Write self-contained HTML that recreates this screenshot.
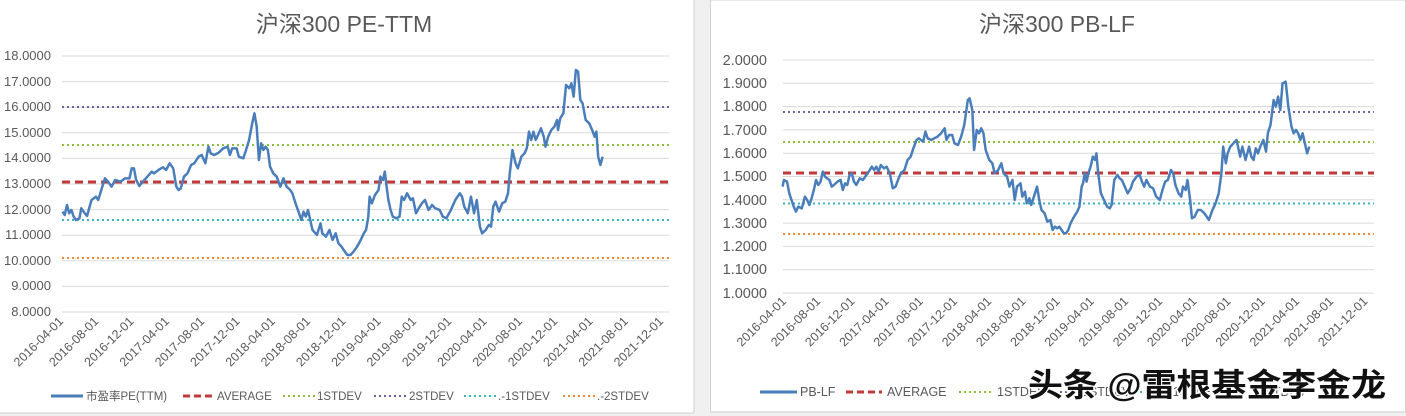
<!DOCTYPE html>
<html><head><meta charset="utf-8"><style>
body{margin:0;width:1406px;height:416px;background:#f0f0f0;overflow:hidden;font-family:"Liberation Sans","Noto Sans CJK SC",sans-serif}
svg{position:absolute;left:0;top:0}
</style></head><body>
<svg width="1406" height="416" viewBox="0 0 1406 416" font-family="Liberation Sans, Noto Sans CJK SC, sans-serif">
<rect x="0" y="0" width="694" height="413" fill="#fff"/>
<line x1="694" y1="0" x2="694" y2="413" stroke="#d0d0d0"/>
<rect x="710.5" y="0" width="695" height="412" fill="#fff" stroke="#d0d0d0"/>
<line x1="0" y1="413" x2="694" y2="413" stroke="#d0d0d0"/>
<!-- LEFT -->
<text x="344" y="32" text-anchor="middle" font-size="23" fill="#595959">沪深300 PE-TTM</text>
<g stroke="#d9d9d9" stroke-width="1">
<line x1="62" x2="669" y1="56" y2="56"/><line x1="62" x2="669" y1="81.6" y2="81.6"/><line x1="62" x2="669" y1="107.2" y2="107.2"/><line x1="62" x2="669" y1="132.8" y2="132.8"/><line x1="62" x2="669" y1="158.4" y2="158.4"/><line x1="62" x2="669" y1="184" y2="184"/><line x1="62" x2="669" y1="209.6" y2="209.6"/><line x1="62" x2="669" y1="235.2" y2="235.2"/><line x1="62" x2="669" y1="260.8" y2="260.8"/><line x1="62" x2="669" y1="286.4" y2="286.4"/><line x1="62" x2="669" y1="312" y2="312"/>
</g>
<g font-size="13" fill="#595959" text-anchor="end">
<text x="51" y="60">18.0000</text><text x="51" y="86">17.0000</text><text x="51" y="111">16.0000</text><text x="51" y="137">15.0000</text><text x="51" y="162">14.0000</text><text x="51" y="188">13.0000</text><text x="51" y="214">12.0000</text><text x="51" y="239">11.0000</text><text x="51" y="265">10.0000</text><text x="51" y="290">9.0000</text><text x="51" y="316">8.0000</text>
</g>
<line x1="62" x2="669" y1="107" y2="107" stroke="#7060a0" stroke-width="2" stroke-dasharray="2,3"/>
<line x1="62" x2="669" y1="145" y2="145" stroke="#8cbf3f" stroke-width="2" stroke-dasharray="2,3"/>
<line x1="62" x2="669" y1="182" y2="182" stroke="#c0393b" stroke-width="3" stroke-dasharray="8,5"/>
<line x1="62" x2="669" y1="220" y2="220" stroke="#3bb3c3" stroke-width="2" stroke-dasharray="2,3"/>
<line x1="62" x2="669" y1="258" y2="258" stroke="#f0883a" stroke-width="2" stroke-dasharray="2,3"/>
<g transform="scale(0.4464,0.3333)">
<polyline fill="none" stroke="#4a7ebb" stroke-width="2.5" vector-effect="non-scaling-stroke" stroke-linejoin="round" points="140,635 145,645 150,615 155,640 160,630 165,650 170,660 178,655 182,625 190,640 195,648 205,600 215,590 220,600 235,535 242,545 250,560 258,540 270,545 280,535 290,535 295,505 300,505 305,540 312,558 320,545 330,530 340,515 345,520 355,510 365,502 372,510 380,490 388,505 395,560 400,570 405,565 412,530 420,520 428,495 435,490 445,470 452,465 460,490 467,440 472,460 480,465 490,458 500,445 510,440 515,465 520,445 530,445 535,470 545,475 550,455 558,420 565,370 570,340 575,380 580,480 585,430 590,450 595,440 600,450 605,500 612,520 620,530 628,560 635,535 642,560 650,570 655,580 662,610 670,640 675,660 680,635 685,650 690,630 695,660 700,690 710,705 718,670 722,700 730,710 738,690 745,720 752,700 758,730 765,740 770,750 778,765 785,765 792,755 800,740 808,720 815,700 820,690 825,650 828,590 833,610 840,585 848,570 852,530 858,540 862,515 866,560 870,600 875,630 880,650 888,655 895,650 900,590 905,600 912,580 920,600 925,595 932,640 938,625 945,610 952,600 960,630 968,615 975,625 985,630 992,650 1000,655 1010,630 1020,600 1030,580 1035,590 1040,620 1048,640 1055,590 1062,640 1068,600 1075,680 1080,700 1088,690 1095,675 1100,680 1105,620 1110,605 1118,635 1125,610 1132,605 1138,580 1142,520 1148,450 1155,490 1160,505 1168,470 1175,460 1180,445 1185,395 1190,420 1195,395 1200,420 1207,400 1212,385 1218,410 1222,440 1228,410 1235,390 1242,380 1248,360 1250,390 1255,355 1262,340 1268,255 1275,265 1280,250 1285,290 1290,210 1295,215 1300,300 1305,310 1312,360 1320,370 1328,395 1332,410 1336,395 1340,470 1345,495 1350,470"/>
</g>
<g font-size="12.5" fill="#595959" text-anchor="end">
<text transform="translate(64,322) rotate(-45)">2016-04-01</text>
<text transform="translate(99.3,322) rotate(-45)">2016-08-01</text>
<text transform="translate(134.6,322) rotate(-45)">2016-12-01</text>
<text transform="translate(169.9,322) rotate(-45)">2017-04-01</text>
<text transform="translate(205.2,322) rotate(-45)">2017-08-01</text>
<text transform="translate(240.5,322) rotate(-45)">2017-12-01</text>
<text transform="translate(275.8,322) rotate(-45)">2018-04-01</text>
<text transform="translate(311.1,322) rotate(-45)">2018-08-01</text>
<text transform="translate(346.4,322) rotate(-45)">2018-12-01</text>
<text transform="translate(381.7,322) rotate(-45)">2019-04-01</text>
<text transform="translate(417,322) rotate(-45)">2019-08-01</text>
<text transform="translate(452.3,322) rotate(-45)">2019-12-01</text>
<text transform="translate(487.6,322) rotate(-45)">2020-04-01</text>
<text transform="translate(522.9,322) rotate(-45)">2020-08-01</text>
<text transform="translate(558.2,322) rotate(-45)">2020-12-01</text>
<text transform="translate(593.5,322) rotate(-45)">2021-04-01</text>
<text transform="translate(628.8,322) rotate(-45)">2021-08-01</text>
<text transform="translate(664.1,322) rotate(-45)">2021-12-01</text>
</g>
<g font-size="11.5" fill="#595959">
<line x1="51" x2="83" y1="396" y2="396" stroke="#4a7ebb" stroke-width="3"/><text x="86" y="400">市盈率PE(TTM)</text>
<line x1="183" x2="213" y1="396" y2="396" stroke="#c0393b" stroke-width="3" stroke-dasharray="7,4"/><text x="217" y="400">AVERAGE</text>
<line x1="283" x2="315" y1="396" y2="396" stroke="#8cbf3f" stroke-width="2" stroke-dasharray="2,3"/><text x="317" y="400">1STDEV</text>
<line x1="374" x2="406" y1="396" y2="396" stroke="#7060a0" stroke-width="2" stroke-dasharray="2,3"/><text x="409" y="400">2STDEV</text>
<line x1="464" x2="496" y1="396" y2="396" stroke="#3bb3c3" stroke-width="2" stroke-dasharray="2,3"/><text x="498" y="400">.-1STDEV</text>
<line x1="563" x2="595" y1="396" y2="396" stroke="#f0883a" stroke-width="2" stroke-dasharray="2,3"/><text x="597" y="400">.-2STDEV</text>
</g>
<!-- RIGHT -->
<text x="1057" y="32" text-anchor="middle" font-size="23" fill="#595959">沪深300 PB-LF</text>
<g stroke="#d9d9d9" stroke-width="1">
<line x1="783" x2="1374" y1="60" y2="60"/><line x1="783" x2="1374" y1="83.3" y2="83.3"/><line x1="783" x2="1374" y1="106.6" y2="106.6"/><line x1="783" x2="1374" y1="129.9" y2="129.9"/><line x1="783" x2="1374" y1="153.2" y2="153.2"/><line x1="783" x2="1374" y1="176.5" y2="176.5"/><line x1="783" x2="1374" y1="199.8" y2="199.8"/><line x1="783" x2="1374" y1="223.1" y2="223.1"/><line x1="783" x2="1374" y1="246.4" y2="246.4"/><line x1="783" x2="1374" y1="269.7" y2="269.7"/><line x1="783" x2="1374" y1="293" y2="293"/>
</g>
<g font-size="14.5" fill="#595959" text-anchor="end">
<text x="767" y="65">2.0000</text><text x="767" y="88">1.9000</text><text x="767" y="111">1.8000</text><text x="767" y="135">1.7000</text><text x="767" y="158">1.6000</text><text x="767" y="181">1.5000</text><text x="767" y="205">1.4000</text><text x="767" y="228">1.3000</text><text x="767" y="251">1.2000</text><text x="767" y="274">1.1000</text><text x="767" y="298">1.0000</text>
</g>
<line x1="783" x2="1374" y1="112" y2="112" stroke="#7060a0" stroke-width="2" stroke-dasharray="2,3"/>
<line x1="783" x2="1374" y1="142" y2="142" stroke="#8cbf3f" stroke-width="2" stroke-dasharray="2,3"/>
<line x1="783" x2="1374" y1="173" y2="173" stroke="#c0393b" stroke-width="3" stroke-dasharray="8,5"/>
<line x1="783" x2="1374" y1="203.5" y2="203.5" stroke="#3bb3c3" stroke-width="2" stroke-dasharray="2,3"/>
<line x1="783" x2="1374" y1="234" y2="234" stroke="#f0883a" stroke-width="2" stroke-dasharray="2,3"/>
<g transform="translate(700,0) scale(0.4464,0.3333)">
<polyline fill="none" stroke="#4a7ebb" stroke-width="2.5" vector-effect="non-scaling-stroke" stroke-linejoin="round" points="185,560 188,540 195,545 200,580 205,600 210,620 215,635 220,620 228,625 235,590 240,600 245,615 250,595 255,570 260,540 265,555 270,545 275,515 280,530 285,535 290,540 295,560 300,555 308,545 315,540 320,570 325,550 330,555 335,525 340,520 345,545 350,555 358,535 365,540 370,530 378,515 385,500 390,510 395,500 400,515 405,495 412,505 418,500 425,520 432,565 438,560 445,535 450,520 458,510 465,480 472,470 478,445 485,420 490,415 495,420 500,425 505,395 510,415 518,420 525,415 532,410 540,400 548,385 552,420 558,405 565,405 570,430 578,435 585,410 592,375 600,300 604,295 610,330 614,450 620,390 625,400 630,385 635,400 640,450 648,480 655,490 660,520 668,510 675,490 680,520 688,530 693,560 700,540 705,600 710,560 718,550 722,590 728,575 732,610 738,595 742,615 748,590 755,560 760,600 765,630 772,640 778,665 785,660 790,690 795,680 800,685 805,680 810,690 815,700 820,700 825,690 830,670 838,650 845,635 850,620 855,560 858,550 862,520 866,545 870,520 875,500 880,470 885,480 888,460 892,520 898,580 905,600 912,620 918,625 922,615 928,540 935,525 940,535 945,540 950,555 958,580 965,565 970,545 978,530 985,525 990,545 995,560 1000,540 1008,560 1015,565 1022,590 1030,600 1036,570 1042,545 1048,540 1055,510 1060,520 1065,555 1072,580 1078,590 1082,560 1088,570 1092,540 1098,600 1102,655 1108,650 1115,630 1122,630 1130,640 1140,660 1148,630 1155,610 1162,580 1168,520 1172,440 1178,490 1182,460 1188,440 1195,430 1202,420 1210,470 1215,440 1222,480 1230,440 1235,470 1240,480 1245,445 1250,460 1255,440 1262,420 1268,455 1272,400 1278,375 1285,300 1290,320 1295,290 1300,330 1305,250 1312,245 1318,320 1325,380 1330,400 1335,390 1340,400 1345,420 1350,400 1355,430 1360,460 1365,440"/>
</g>
<g font-size="12.5" fill="#595959" text-anchor="end">
<text transform="translate(787,302) rotate(-45)">2016-04-01</text>
<text transform="translate(821.2,302) rotate(-45)">2016-08-01</text>
<text transform="translate(855.4,302) rotate(-45)">2016-12-01</text>
<text transform="translate(889.6,302) rotate(-45)">2017-04-01</text>
<text transform="translate(923.8,302) rotate(-45)">2017-08-01</text>
<text transform="translate(958,302) rotate(-45)">2017-12-01</text>
<text transform="translate(992.2,302) rotate(-45)">2018-04-01</text>
<text transform="translate(1026.4,302) rotate(-45)">2018-08-01</text>
<text transform="translate(1060.6,302) rotate(-45)">2018-12-01</text>
<text transform="translate(1094.8,302) rotate(-45)">2019-04-01</text>
<text transform="translate(1129,302) rotate(-45)">2019-08-01</text>
<text transform="translate(1163.2,302) rotate(-45)">2019-12-01</text>
<text transform="translate(1197.4,302) rotate(-45)">2020-04-01</text>
<text transform="translate(1231.6,302) rotate(-45)">2020-08-01</text>
<text transform="translate(1265.8,302) rotate(-45)">2020-12-01</text>
<text transform="translate(1300,302) rotate(-45)">2021-04-01</text>
<text transform="translate(1334.2,302) rotate(-45)">2021-08-01</text>
<text transform="translate(1368.4,302) rotate(-45)">2021-12-01</text>
</g>
<g font-size="12.5" fill="#595959">
<line x1="760" x2="797" y1="392" y2="392" stroke="#4a7ebb" stroke-width="3"/><text x="800" y="396">PB-LF</text>
<line x1="846" x2="882" y1="392" y2="392" stroke="#c0393b" stroke-width="3" stroke-dasharray="7,4"/><text x="887" y="396">AVERAGE</text>
<line x1="959" x2="992" y1="392" y2="392" stroke="#8cbf3f" stroke-width="2" stroke-dasharray="2,3"/><text x="997" y="396">1STDEV</text>
<line x1="1045" x2="1078" y1="392" y2="392" stroke="#7060a0" stroke-width="2" stroke-dasharray="2,3"/><text x="1082" y="396">2STDEV</text>
<line x1="1130" x2="1162" y1="392" y2="392" stroke="#3bb3c3" stroke-width="2" stroke-dasharray="2,3"/><text x="1165" y="396">.-1STDEV</text>
<line x1="1215" x2="1247" y1="392" y2="392" stroke="#f0883a" stroke-width="2" stroke-dasharray="2,3"/><text x="1250" y="396">.-2STDEV</text>
</g>
<text x="1028" y="396" font-size="32" font-weight="bold" fill="#111" stroke="#fff" stroke-width="3" paint-order="stroke" textLength="358" lengthAdjust="spacingAndGlyphs" font-family="Liberation Sans, Noto Sans CJK SC, sans-serif">头条 @雷根基金李金龙</text>
</svg>
</body></html>
